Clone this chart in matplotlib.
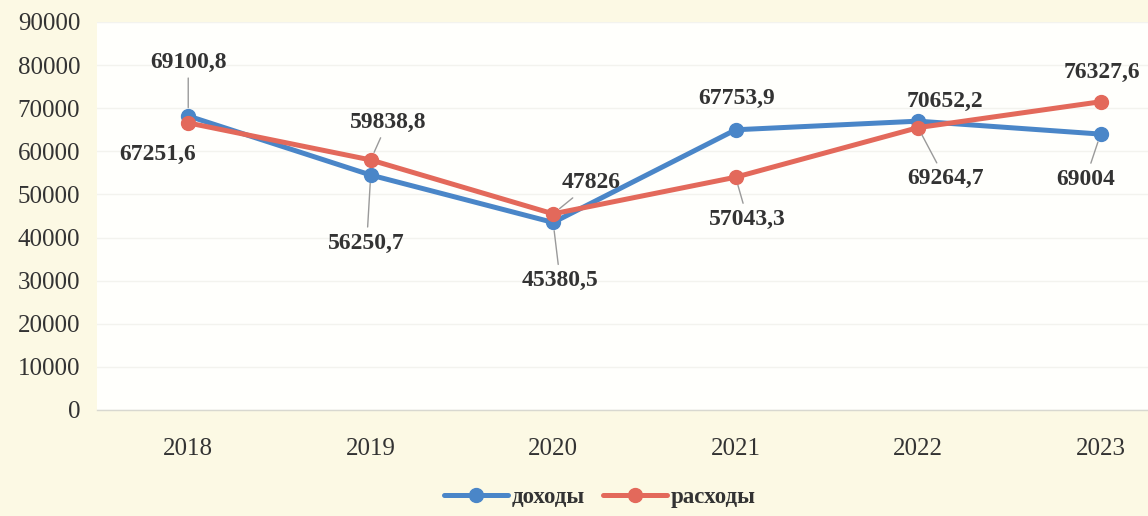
import matplotlib
matplotlib.use("Agg")
import matplotlib.pyplot as plt

plt.rcParams['font.family'] = ['Liberation Serif', 'DejaVu Serif']

years = ["2018", "2019", "2020", "2021", "2022", "2023"]
# plotted positions (as drawn in the reference)
income = [68200, 54500, 43500, 65000, 67000, 64000]
expense = [66600, 58000, 45500, 54000, 65500, 71500]
# data label texts (as printed in the reference)
income_labels = ["69100,8", "56250,7", "45380,5", "67753,9", "70652,2", "69004"]
expense_labels = ["67251,6", "59838,8", "47826", "57043,3", "69264,7", "76327,6"]
yticks = [0, 10000, 20000, 30000, 40000, 50000, 60000, 70000, 80000, 90000]

BLUE = "#4a86c8"
RED = "#e3695b"

fig = plt.figure(figsize=(11.48, 5.16), dpi=100)
fig.patch.set_facecolor("#fcf9e4")
ax = fig.add_axes([97 / 1148, 106 / 516, 1 - 97 / 1148, 388 / 516])
ax.set_facecolor("#fffffc")

x = list(range(len(years)))
l1, = ax.plot(x, income, color=BLUE, lw=3.6, marker="o", ms=10, mfc=BLUE, mec=BLUE,
              label="доходы", zorder=3, solid_capstyle="round")
l2, = ax.plot(x, expense, color=RED, lw=3.6, marker="o", ms=10, mfc=RED, mec=RED,
              label="расходы", zorder=4, solid_capstyle="round")

ax.set_xlim(-0.5, 5.26)
ax.set_ylim(0, 90000)
ax.set_yticks(yticks)
ax.set_yticklabels([str(v) for v in yticks])
ax.set_xticks(x)
ax.set_xticklabels(years)
ax.tick_params(axis="both", length=0, labelsize=18, colors="#333333")
ax.tick_params(axis="x", pad=20)
ax.tick_params(axis="y", pad=12)
ax.grid(axis="y", color="#f3f3ee", lw=1)
ax.set_axisbelow(True)
for s in ["top", "right", "left"]:
    ax.spines[s].set_visible(False)
ax.spines["bottom"].set_color("#d8d8d0")
ax.spines["bottom"].set_linewidth(1)

# label offsets in pixels (dx, dy), and whether a leader line is drawn
inc_off = [(0, 54, True), (-4, -68, True), (7, -58, True), (1, 31, False), (27, 20, False), (-15, -45, True)]
exp_off = [(-31, -32, False), (17, 38, True), (38, 31, True), (12, -42, True), (27, -51, True), (1, 29, False)]

def put(vals, labels, offs):
    for i, (v, t, (dx, dy, lead)) in enumerate(zip(vals, labels, offs)):
        kw = {}
        if lead:
            kw["arrowprops"] = dict(arrowstyle="-", color="#9a9a9a", lw=1,
                                    shrinkA=2, shrinkB=6)
        ax.annotate(t, xy=(i, v), xytext=(dx, dy), textcoords="offset pixels",
                    ha="center", va="center", fontsize=17, fontweight="bold",
                    color="#333333", zorder=6, **kw)

put(income, income_labels, inc_off)
put(expense, expense_labels, exp_off)

leg = fig.legend(handles=[l1, l2], loc="center", bbox_to_anchor=(600 / 1148, 1 - 497 / 516),
                 ncol=2, frameon=False, handlelength=2.8, handletextpad=0.15,
                 columnspacing=0.8, prop={"size": 16.5, "weight": "bold"})
for t in leg.get_texts():
    t.set_color("#333333")

fig.savefig("out.png", dpi=100, facecolor=fig.get_facecolor())
